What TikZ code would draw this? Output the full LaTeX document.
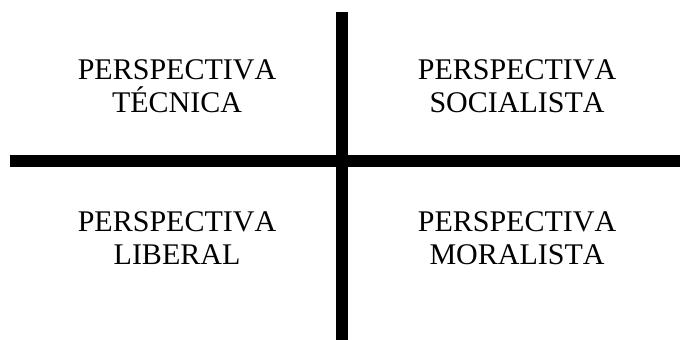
\documentclass[tikz,border=0pt]{standalone}
\usepackage{fontspec}
\setmainfont{Liberation Serif}[Kerning=Off]
\begin{document}
\begin{tikzpicture}[x=1pt,y=-1pt,
  axisline/.style={line width=12pt,line cap=butt,draw=black},
  label/.style={anchor=north,inner sep=0pt,align=center,font=\fontsize{30}{33}\selectfont}]
\useasboundingbox (0,0) rectangle (680,340);
\coordinate (vt) at (342,12);
\coordinate (vb) at (342,340);
\coordinate (hl) at (10,161);
\coordinate (hr) at (680,161);
\draw[axisline] (vt) -- (vb);
\draw[axisline] (hl) -- (hr);
\node[label] (tl) at (177,59.5) {PERSPECTIVA\\TÉCNICA};
\node[label] (tr) at (517,59.5) {PERSPECTIVA\\SOCIALISTA};
\node[label] (bl) at (177,211.5) {PERSPECTIVA\\LIBERAL};
\node[label] (br) at (517,211.5) {PERSPECTIVA\\MORALISTA};
\end{tikzpicture}
\end{document}
